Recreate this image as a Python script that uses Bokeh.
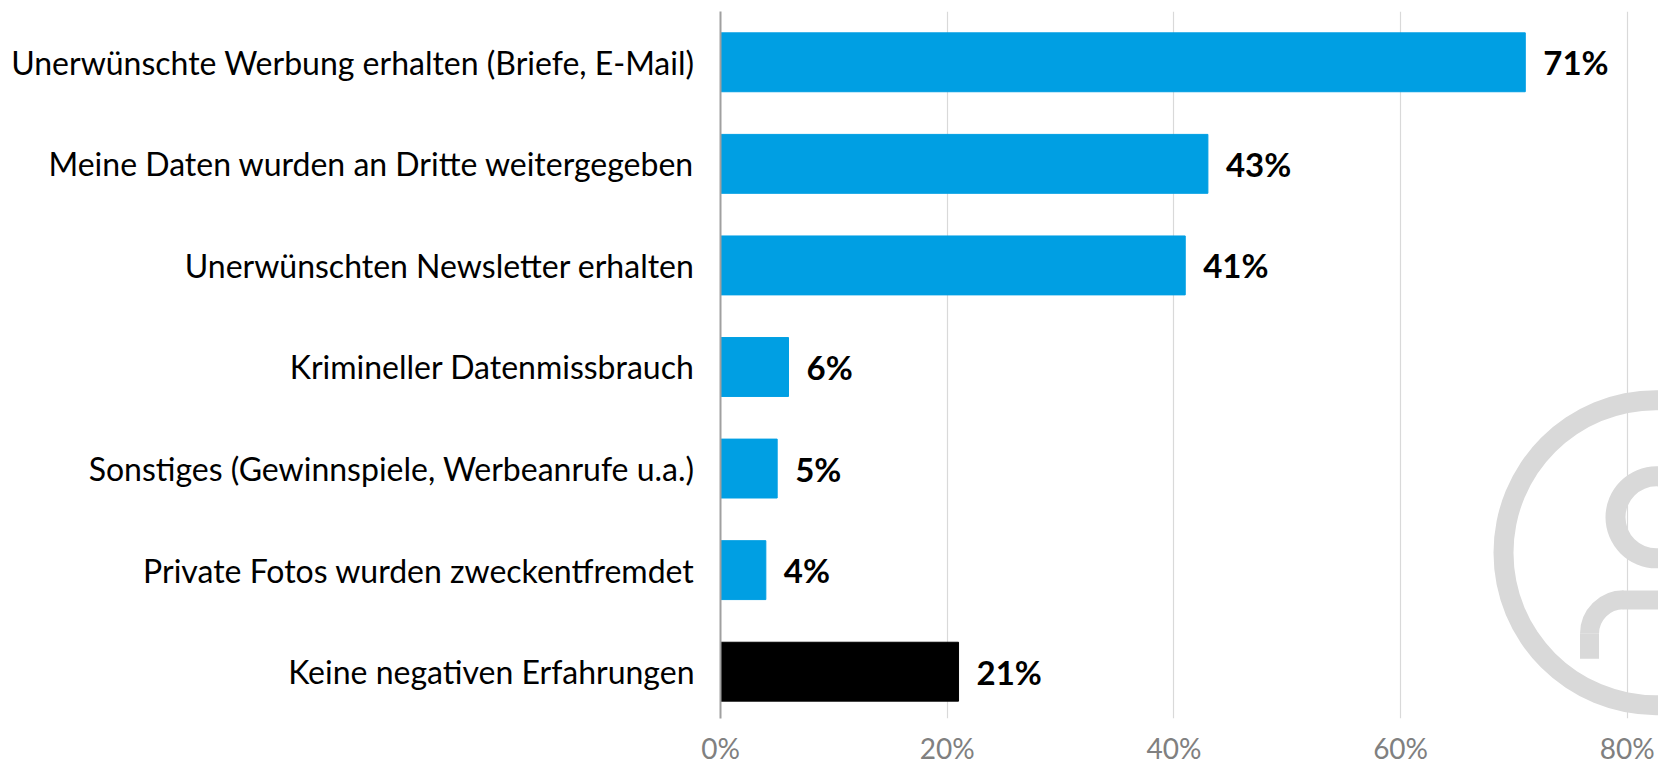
from bokeh.plotting import figure
from bokeh.models import Range1d, FixedTicker, PrintfTickFormatter, ColumnDataSource
from bokeh.core.properties import value
from bokeh.embed import file_html
from bokeh.resources import INLINE

# ---- data ----
categories = [
    "Unerwünschte Werbung erhalten (Briefe, E-Mail)",
    "Meine Daten wurden an Dritte weitergegeben",
    "Unerwünschten Newsletter erhalten",
    "Krimineller Datenmissbrauch",
    "Sonstiges (Gewinnspiele, Werbeanrufe u.a.)",
    "Private Fotos wurden zweckentfremdet",
    "Keine negativen Erfahrungen",
]
values = [71, 43, 41, 6, 5, 4, 21]
value_labels = ["71%", "43%", "41%", "6%", "5%", "4%", "21%"]
x_ticks = [0, 20, 40, 60, 80]

# ---- layout constants ----
W, H = 1658, 767
BORDER_L, BORDER_T, BORDER_B = 720, 11, 46
FRAME_W = W - BORDER_L
FRAME_H = H - BORDER_T - BORDER_B
PX_PER_PCT = 226.7 / 20
PX_PER_ROW = 102.0
n = len(categories)
y_top = float(n)
y_bottom = y_top - FRAME_H / PX_PER_ROW
x_max = FRAME_W / PX_PER_PCT

BLUE = "#009FE3"
ys = [n - 0.5 - i for i in range(n)]
colors = [BLUE] * (n - 1) + ["#000000"]
src = ColumnDataSource(dict(y=ys, v=values, lab=value_labels, c=colors))

p = figure(width=W, height=H, output_backend="svg", toolbar_location=None,
           x_range=Range1d(0, x_max), y_range=Range1d(y_bottom, y_top),
           min_border_left=BORDER_L, min_border_right=0,
           min_border_top=BORDER_T, min_border_bottom=BORDER_B)
p.outline_line_color = None
p.background_fill_color = "white"
p.border_fill_color = "white"

# grid
p.ygrid.grid_line_color = None
p.xgrid.grid_line_color = "#D9D9D9"
p.xgrid.grid_line_width = 1.2
p.xaxis.ticker = FixedTicker(ticks=x_ticks)

# watermark (decoration), page-pixel positions converted to data coords
def px2x(px):
    return (px - BORDER_L) / PX_PER_PCT
def py2y(py):
    return y_top - (py - BORDER_T) / PX_PER_ROW

WM = "#D9D9D9"
p.annulus(x=[px2x(1655.5)], y=[py2y(554.5)], inner_radius=142.5, outer_radius=162.5,
          inner_radius_units="screen", outer_radius_units="screen",
          fill_color=WM, line_color=None)
p.annulus(x=[px2x(1656)], y=[py2y(519)], inner_radius=31, outer_radius=51,
          inner_radius_units="screen", outer_radius_units="screen",
          fill_color=WM, line_color=None)
p.arc(x=[px2x(1623)], y=[py2y(636)], radius=34, radius_units="screen",
      start_angle=1.5708, end_angle=3.1416, line_color=WM, line_width=19)
p.line(x=[px2x(1589), px2x(1589)], y=[py2y(636), py2y(661)], line_color=WM, line_width=19)
p.line(x=[px2x(1622), px2x(1700)], y=[py2y(602), py2y(602)], line_color=WM, line_width=19)

# bars
p.hbar(y="y", left=0, right="v", height=0.58, color="c", source=src)

# value labels
p.text(x="v", y="y", text="lab", source=src, x_offset=18,
       text_baseline="middle", text_align="left",
       text_font=value("Lato"), text_font_style="bold",
       text_font_size="33px", text_color="#000000")

# y axis (categories)
p.yaxis.ticker = FixedTicker(ticks=ys)
p.yaxis.major_label_overrides = {y: c for y, c in zip(ys, categories)}
p.yaxis.major_label_text_font = "Lato"
p.yaxis.major_label_text_font_size = "32px"
p.yaxis.major_label_text_color = "#000000"
p.yaxis.major_label_standoff = 26
p.yaxis.major_tick_out = 0
p.yaxis.major_tick_in = 0
p.yaxis.major_tick_line_color = None
p.yaxis.minor_tick_line_color = None
p.yaxis.axis_line_color = "#A0A0A0"
p.yaxis.axis_line_width = 2

# x axis
p.xaxis.formatter = PrintfTickFormatter(format="%d%%")
p.xaxis.axis_line_color = None
p.xaxis.major_tick_out = 0
p.xaxis.major_tick_in = 0
p.xaxis.major_tick_line_color = None
p.xaxis.minor_tick_line_color = None
p.xaxis.major_label_text_font = "Lato"
p.xaxis.major_label_text_font_size = "28px"
p.xaxis.major_label_text_color = "#808080"
p.xaxis.major_label_standoff = 12

open("out.html", "w").write(file_html(p, INLINE))
